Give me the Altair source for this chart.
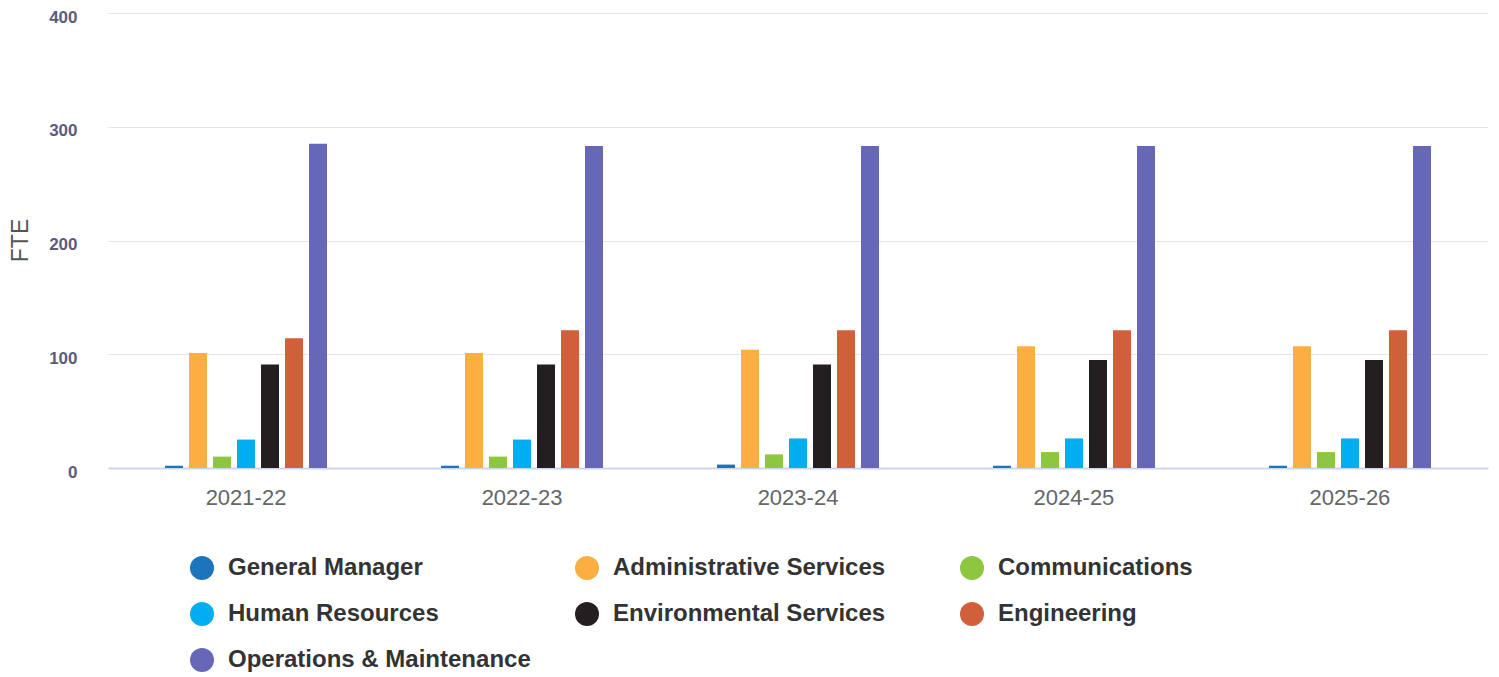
import altair as alt
import pandas as pd

years = ["2021-22", "2022-23", "2023-24", "2024-25", "2025-26"]
departments = [
    "General Manager",
    "Administrative Services",
    "Communications",
    "Human Resources",
    "Environmental Services",
    "Engineering",
    "Operations & Maintenance",
]
colors = ["#1c75bc", "#fbae42", "#8dc63f", "#00aeef", "#231f20", "#d0603a", "#6767b8"]

general_manager = [2, 2, 3, 2, 2]
administrative_services = [101, 101, 104, 107, 107]
communications = [10, 10, 12, 14, 14]
human_resources = [25, 25, 26, 26, 26]
environmental_services = [91, 91, 91, 95, 95]
engineering = [114, 121, 121, 121, 121]
operations_maintenance = [285, 283, 283, 283, 283]

series = [
    general_manager,
    administrative_services,
    communications,
    human_resources,
    environmental_services,
    engineering,
    operations_maintenance,
]

rows = []
for dep, vals in zip(departments, series):
    for yr, v in zip(years, vals):
        rows.append({"Year": yr, "Department": dep, "FTE": v})
df = pd.DataFrame(rows)

FONT = "Liberation Sans"

chart = (
    alt.Chart(df)
    .mark_bar()
    .encode(
        x=alt.X(
            "Year:N",
            sort=years,
            title=None,
            scale=alt.Scale(paddingInner=0.3913, paddingOuter=0.1957),
            axis=alt.Axis(
                labelAngle=0,
                ticks=False,
                tickSize=0,
                domain=True,
                domainColor="#ccd6eb",
                domainWidth=2,
                labelFontSize=22,
                labelColor="#666666",
                labelFont=FONT,
                labelPadding=19,
            ),
        ),
        xOffset=alt.XOffset(
            "Department:N",
            sort=departments,
            scale=alt.Scale(domain=departments, paddingInner=0.25, paddingOuter=0.125),
        ),
        y=alt.Y(
            "FTE:Q",
            scale=alt.Scale(domain=[0, 400], nice=False),
            axis=alt.Axis(
                values=[0, 100, 200, 300, 400],
                title="FTE",
                domain=False,
                ticks=False,
                tickSize=0,
                grid=True,
                gridColor="#e6e6e6",
                gridWidth=1,
                labelFont=FONT,
                labelFontSize=17,
                labelFontWeight="bold",
                labelColor="#5c5c7c",
                labelPadding=31,
                labelOffset=4,
                titleFont=FONT,
                titleFontSize=23,
                titleFontWeight="normal",
                titleColor="#555555",
                titleX=-88,
                titleY=227,
                titleAngle=270,
                titleAlign="center",
                titleBaseline="middle",
            ),
        ),
        color=alt.Color(
            "Department:N",
            sort=departments,
            scale=alt.Scale(domain=departments, range=colors),
            legend=alt.Legend(
                title=None,
                orient="none",
                direction="horizontal",
                legendX=82,
                legendY=543,
                columns=3,
                symbolType="circle",
                symbolSize=576,
                symbolStrokeWidth=0,
                symbolOpacity=1,
                labelFont=FONT,
                labelFontSize=24,
                labelFontWeight="bold",
                labelColor="#333333",
                labelLimit=600,
                labelOffset=14,
                columnPadding=44,
                rowPadding=22,
                gridAlign="all",
                padding=0,
            ),
        ),
    )
    .properties(
        width=1380,
        height=455,
        autosize=alt.AutoSizeParams(type="none"),
        padding={"left": 100, "top": 5, "right": 2, "bottom": 204},
    )
    .configure_view(stroke=None)
)

chart.save("out.html", embed_options={"renderer": "svg", "actions": False})
